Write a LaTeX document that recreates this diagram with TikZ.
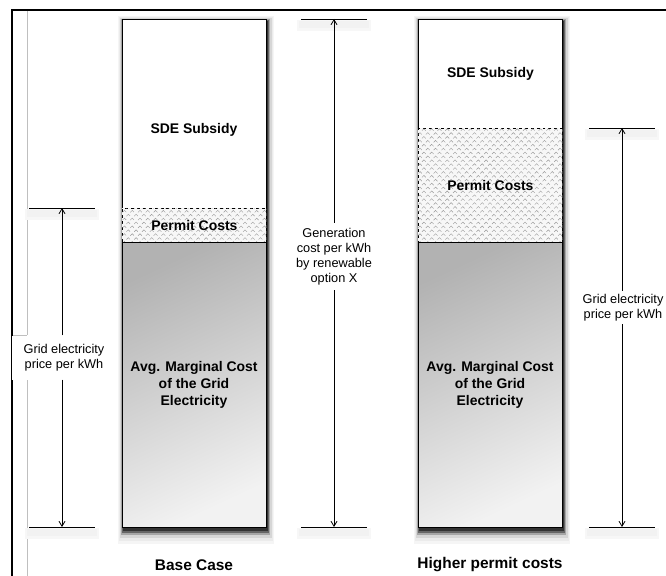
\documentclass[tikz,border=0pt]{standalone}
\usepackage{fontspec}
\setmainfont{Liberation Sans}
\usetikzlibrary{arrows.meta,patterns.meta}
\begin{document}
\begin{tikzpicture}[x=1bp,y=-1bp,
  seg/.style={draw, line width=0.9bp, minimum width=144bp, inner sep=0pt, anchor=north west},
  sdebox/.style={seg, fill=white},
  permitbox/.style={seg, dashed, fill=black!3,
    postaction={pattern={Hatch[angle=45,distance=5.5bp,line width=0.4bp]}, pattern color=black!40}},
  greybox/.style={seg, shading=axis, top color=black!30, bottom color=black!5, shading angle=25},
  bartext/.style={font=\bfseries\fontsize{14}{17}\selectfont, align=center, inner sep=0pt},
  titletext/.style={font=\bfseries\fontsize{15.5}{18}\selectfont, inner sep=0pt},
  dimtext/.style={font=\fontsize{12.8}{15}\selectfont, align=center},
  arr/.style={line width=0.8bp, -{Straight Barb[length=5bp,width=6bp]}},
  tickline/.style={line width=0.9bp},
]
\useasboundingbox (0,0) rectangle (666,576);
\fill[white] (0,0) rectangle (666,576);

% frame
\draw[line width=2bp] (12,576) -- (12,10) -- (666,10);
\draw[black!25, line width=0.8bp] (27,11) -- (27,335) (27,379) -- (27,576)
  (13,335) -- (27,335) (13,379) -- (27,379);

% bar shadows (layered, soft)
\foreach \bx in {122,418}{
  \fill[black!4]  (\bx-4,16) rectangle (\bx+152,544);
  \fill[black!8]  (\bx-3,17) rectangle (\bx+151,541);
  \fill[black!16] (\bx-2,18) rectangle (\bx+150,538);
  \fill[black!35] (\bx-1,19) rectangle (\bx+148,535);
  \fill[black!60] (\bx,20) rectangle (\bx+147,533);
  \fill[black!80] (\bx+1,21) rectangle (\bx+146,531);
}

% ---- left bar (Base Case)
\node[sdebox, minimum height=189bp] (lsde) at (122,19) {};
\node[permitbox, minimum height=34bp] (lperm) at (122,208) {};
\node[greybox, minimum height=285bp] (lgrey) at (122,242) {};
\node[bartext] (lsdet) at (194,130) {SDE Subsidy};
\node[bartext] (lpermt) at (lperm.center) {Permit Costs};
\node[bartext] (lgreyt) at (194,385) {Avg. Marginal Cost\\of the Grid\\Electricity};

% ---- right bar (Higher permit costs)
\node[sdebox, minimum height=109bp] (rsde) at (418,19) {};
\node[permitbox, minimum height=114bp] (rperm) at (418,128) {};
\node[greybox, minimum height=285bp] (rgrey) at (418,242) {};
\node[bartext] (rsdet) at (rsde.center) {SDE Subsidy};
\node[bartext] (rpermt) at (rperm.center) {Permit Costs};
\node[bartext] (rgreyt) at (490,385) {Avg. Marginal Cost\\of the Grid\\Electricity};

% ---- titles
\node[titletext] (ltitle) at (194,565) {Base Case};
\node[titletext] (rtitle) at (490,565) {Higher permit costs};

% ---- tick coordinates
\coordinate (lt) at (62,208);  \coordinate (lb) at (62,527);
\coordinate (mt) at (334,19);  \coordinate (mb) at (334,527);
\coordinate (rt) at (622,128); \coordinate (rb) at (622,527);

% tick lines with soft shadow below
\foreach \c in {lt,lb,mt,mb,rt,rb}{
  \fill[black!3] ([xshift=-37bp,yshift=-1bp]\c) rectangle ([xshift=37bp,yshift=-12bp]\c);
  \fill[black!5] ([xshift=-35bp,yshift=-2bp]\c) rectangle ([xshift=35bp,yshift=-9bp]\c);
  \draw[tickline] ([xshift=-33bp]\c) -- ([xshift=33bp]\c);
}

% ---- dimension labels
\node[dimtext, fill=white, minimum width=104bp, minimum height=44bp, inner sep=0pt] (lgl) at (64,357.5)
  {Grid electricity\\price per kWh};
\node[dimtext, inner sep=5bp] (mgl) at (334,256.5)
  {Generation\\cost per kWh\\by renewable\\option X};
\node[dimtext, inner sep=3bp] (rgl) at (623,307.5)
  {Grid electricity\\price per kWh};

% ---- arrows
\draw[arr] (lgl.north -| lt) -- (lt);
\draw[arr] (lgl.south -| lb) -- (lb);
\draw[arr] (mgl.north) -- (mt);
\draw[arr] (mgl.south) -- (mb);
\draw[arr] (rgl.north -| rt) -- (rt);
\draw[arr] (rgl.south -| rb) -- (rb);
\end{tikzpicture}
\end{document}
